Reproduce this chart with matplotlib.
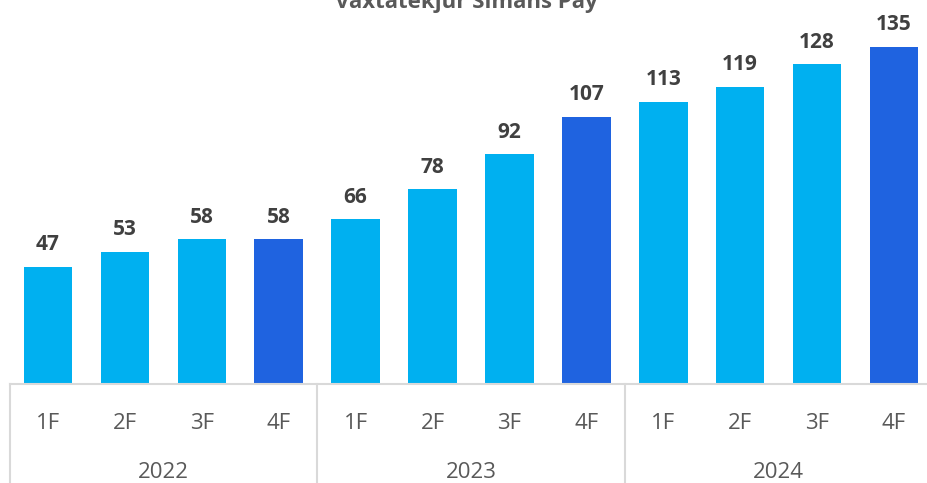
import matplotlib
matplotlib.use('Agg')
import matplotlib.pyplot as plt

plt.rcParams['font.family'] = ['Open Sans', 'DejaVu Sans']

quarters = ['1F', '2F', '3F', '4F'] * 3
years = ['2022', '2023', '2024']
values = [47, 53, 58, 58, 66, 78, 92, 107, 113, 119, 128, 135]
title = 'Vaxtatekjur Símans Pay'

light = '#00B0F0'
dark = '#1F63E0'
colors = [dark if q == '4F' else light for q in quarters]

W, H = 928, 483
fig = plt.figure(figsize=(W / 100, H / 100), dpi=100)
# axes spans from x=9.5px to 932.5px, baseline at 384px from top
ax = fig.add_axes([9.5 / W, (H - 384) / H, 923 / W, 384 / H])
ax.set_xlim(-0.5, 11.5)
ax.set_ylim(0, 384 / 2.5)

x = list(range(len(values)))
ax.bar(x, values, width=0.63, color=colors, zorder=2)
for xi, v in zip(x, values):
    ax.annotate(str(v), (xi, v), xytext=(0, 8), textcoords='offset points',
                ha='center', va='bottom', fontsize=15, fontweight='bold', color='#404040')

for s in ['top', 'right', 'left']:
    ax.spines[s].set_visible(False)
ax.spines['bottom'].set_color('#D9D9D9')
ax.spines['bottom'].set_linewidth(1.5)
ax.set_yticks([])
ax.set_xticks(x)
ax.set_xticklabels(quarters, fontsize=16, color='#595959')
ax.tick_params(axis='x', length=0, pad=21)

# year group labels and separators below the axis
trans = ax.get_xaxis_transform()
for i, yr in enumerate(years):
    ax.text(i * 4 + 1.5, -89 / 384, yr, transform=trans, ha='center', va='center',
            fontsize=16, color='#595959', clip_on=False)
for b in [-0.5, 3.5, 7.5, 11.5]:
    ax.plot([b, b], [0, -0.3], transform=trans, color='#D9D9D9', lw=1.5, clip_on=False)

fig.text(466 / W, 1 - 8 / H, title, ha='center', va='baseline',
         fontsize=16, fontweight='bold', color='#595959')

fig.savefig('out.png', dpi=100)
